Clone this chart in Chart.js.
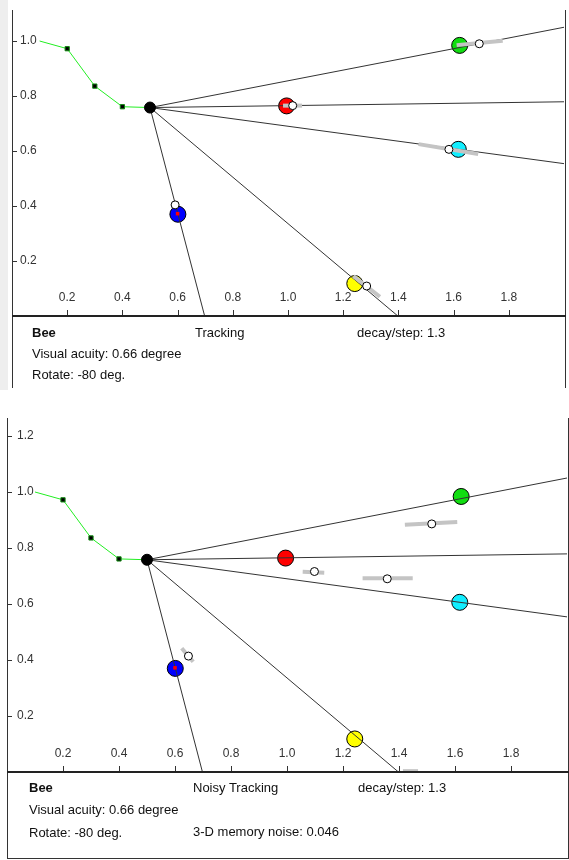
<!DOCTYPE html>
<html>
<head>
<meta charset="utf-8">
<script src="https://cdn.jsdelivr.net/npm/chart.js@4.4.1/dist/chart.umd.min.js"></script>
<style>
  body { margin: 0; background: #fff; }
  #wrap { position: relative; width: 569px; height: 860px; }
  canvas { position: absolute; left: 0; }
  .t { position: absolute; font: 13px "Liberation Sans", Arial, sans-serif; line-height: 15px; color: #111; white-space: nowrap; }
  .b { font-weight: bold; }
</style>
</head>
<body>
<div id="wrap">
  <canvas id="trackChart" width="569" height="390" style="top:0"></canvas>
  <canvas id="noisyChart" width="569" height="460" style="top:400px"></canvas>

  <div class="t b" style="left:32px;top:325px">Bee</div>
  <div class="t" style="left:32px;top:346px">Visual acuity: 0.66 degree</div>
  <div class="t" style="left:32px;top:367px">Rotate: -80 deg.</div>
  <div class="t" style="left:195px;top:325px">Tracking</div>
  <div class="t" style="left:357px;top:325px">decay/step: 1.3</div>

  <div class="t b" style="left:29px;top:780px">Bee</div>
  <div class="t" style="left:29px;top:802px">Visual acuity: 0.66 degree</div>
  <div class="t" style="left:29px;top:825px">Rotate: -80 deg.</div>
  <div class="t" style="left:193px;top:780px">Noisy Tracking</div>
  <div class="t" style="left:358px;top:780px">decay/step: 1.3</div>
  <div class="t" style="left:193px;top:824px">3-D memory noise: 0.046</div>
</div>
<script>
// bee trail (last point is the bee)
const trailX = [0.1, 0.2, 0.3, 0.4, 0.5];
const trailY = [1.0, 0.972, 0.836, 0.761, 0.758];

// targets: green, red, cyan, yellow, blue
const targetColors = ['#11dd11', '#ff0000', '#11eeff', '#ffff00', '#0000ff'];
const targetX = [1.622, 0.995, 1.617, 1.242, 0.601];
const targetY = [0.984, 0.764, 0.606, 0.118, 0.370];
// where each sight line leaves the plot
const rayEndX = [2.0, 2.0, 2.0, 1.398, 0.698];
const rayEndY = [1.050, 0.779, 0.554, 0.0, 0.0];
// selected target mark
const markX = [0.6];
const markY = [0.372];

// tracking estimates + spread bars
const trackEstX = [1.693, 1.017, 1.583, 1.285, 0.591];
const trackEstY = [0.990, 0.765, 0.606, 0.109, 0.404];
const trackBarX0 = [1.611, 0.982, 1.473, 1.237, 0.591];
const trackBarY0 = [0.985, 0.765, 0.625, 0.145, 0.404];
const trackBarX1 = [1.778, 1.051, 1.689, 1.333, 0.591];
const trackBarY1 = [1.001, 0.765, 0.589, 0.070, 0.404];

// noisy tracking estimates + spread bars
const noisyEstX = [1.517, 1.098, 1.358, 1.44, 0.648];
const noisyEstY = [0.886, 0.716, 0.690, -0.03, 0.414];
const noisyBarX0 = [1.421, 1.056, 1.270, 1.414, 0.624];
const noisyBarY0 = [0.883, 0.715, 0.692, 0.003, 0.442];
const noisyBarX1 = [1.608, 1.133, 1.449, 1.468, 0.665];
const noisyBarY1 = [0.893, 0.712, 0.692, 0.003, 0.394];

const xTicks = [0.2, 0.4, 0.6, 0.8, 1.0, 1.2, 1.4, 1.6, 1.8];

const pts = (xs, ys) => xs.map((x, i) => ({ x: x, y: ys[i] }));

const framePlugin = {
  id: 'frame',
  afterDraw(chart, args, opts) {
    const { ctx, chartArea: a, scales } = chart;
    const line = (x1, y1, x2, y2) => { ctx.beginPath(); ctx.moveTo(x1, y1); ctx.lineTo(x2, y2); ctx.stroke(); };
    ctx.save();
    if (opts.strip) {
      ctx.fillStyle = '#eeeeee';
      ctx.fillRect(0, 0, opts.strip, chart.height);
    }
    ctx.strokeStyle = '#333';
    ctx.lineWidth = 1;
    line(a.left + 0.5, a.top, a.left + 0.5, opts.bottom);
    line(a.right + 1.5, a.top, a.right + 1.5, opts.bottom);
    if (opts.box) line(a.left, opts.bottom - 0.5, a.right + 2, opts.bottom - 0.5);
    scales.x.ticks.forEach(t => {
      if (t.value <= 0.001 || t.value >= 1.999) return;
      const px = Math.round(scales.x.getPixelForValue(t.value)) + 0.5;
      line(px, a.bottom, px, a.bottom - 6);
    });
    scales.y.ticks.forEach(t => {
      if (t.value <= 0.001) return;
      const py = Math.round(scales.y.getPixelForValue(t.value)) + 0.5;
      line(a.left, py, a.left + 5, py);
    });
    ctx.strokeStyle = '#222';
    ctx.lineWidth = 2;
    line(a.left, a.bottom, a.right + 2, a.bottom);
    ctx.restore();
  }
};

const makeDatasets = (estX, estY, barX0, barY0, barX1, barY1) => {
  const sets = [];
  sets.push({
    data: [{ x: trailX[4], y: trailY[4] }],
    pointRadius: 5.5, pointBackgroundColor: '#000', pointBorderColor: '#000', pointBorderWidth: 1,
    order: 1
  });
  sets.push({
    data: pts(trailX, trailY), showLine: true, borderColor: '#22ee22', borderWidth: 1,
    pointStyle: 'rect', pointRadius: [0, 3, 3, 3, 0],
    pointBackgroundColor: '#000', pointBorderColor: '#118811', pointBorderWidth: 1,
    order: 2
  });
  sets.push({
    data: pts(markX, markY), pointStyle: 'rect', pointRadius: 2.5,
    pointBackgroundColor: '#ff0000', pointBorderColor: '#cc0000', pointBorderWidth: 0,
    order: 3
  });
  sets.push({
    data: pts(estX, estY), pointRadius: 4, pointBackgroundColor: '#fff',
    pointBorderColor: '#000', pointBorderWidth: 1, clip: 0,
    order: 4
  });
  barX0.forEach((x0, i) => {
    sets.push({
      data: [{ x: x0, y: barY0[i] }, { x: barX1[i], y: barY1[i] }],
      showLine: true, borderColor: '#c4c4c4', borderWidth: 4, pointRadius: 0, clip: 0,
      order: 5
    });
  });
  rayEndX.forEach((xe, i) => {
    sets.push({
      data: [{ x: trailX[4], y: trailY[4] }, { x: xe, y: rayEndY[i] }],
      showLine: true, borderColor: '#333', borderWidth: 1, pointRadius: 0,
      order: 6
    });
  });
  sets.push({
    data: pts(targetX, targetY), pointRadius: 8, pointBackgroundColor: targetColors,
    pointBorderColor: '#000', pointBorderWidth: 1,
    order: 7
  });
  return sets;
};

const zeroFit = (s) => {
  if (s.isHorizontal()) s.height = 0; else s.width = 0;
  s.paddingLeft = 0; s.paddingRight = 0; s.paddingTop = 0; s.paddingBottom = 0;
};

const tickFont = { family: '"Liberation Sans", Arial, sans-serif', size: 12 };
// x labels sit ~18px above the axis: no padding, tall line box
const xTickFont = { family: '"Liberation Sans", Arial, sans-serif', size: 12, lineHeight: '36px' };

const makeChart = (id, datasets, pad, yMax, yPad, frame) => new Chart(document.getElementById(id), {
  type: 'scatter',
  data: { datasets: datasets },
  options: {
    responsive: false,
    animation: false,
    devicePixelRatio: 1,
    events: [],
    layout: { padding: pad, autoPadding: false },
    plugins: { legend: { display: false }, tooltip: { enabled: false }, frame: frame },
    scales: {
      x: {
        type: 'linear', min: 0, max: 2,
        grid: { display: false, drawTicks: false }, border: { display: false },
        afterFit: zeroFit,
        afterBuildTicks: (s) => { s.ticks = [0].concat(xTicks, [2]).map(v => ({ value: v })); },
        ticks: {
          mirror: true, padding: 0, autoSkip: false, maxRotation: 0, color: '#333', font: xTickFont,
          callback: (v) => (v > 0.001 && v < 1.999) ? v.toFixed(1) : ''
        }
      },
      y: {
        type: 'linear', min: 0, max: yMax,
        grid: { display: false, drawTicks: false }, border: { display: false },
        afterFit: zeroFit,
        ticks: {
          mirror: true, padding: yPad, stepSize: 0.2, includeBounds: false, color: '#333', font: tickFont,
          callback: (v) => v > 0.001 ? v.toFixed(1) : ''
        }
      }
    }
  },
  plugins: [framePlugin]
});

makeChart('trackChart',
  makeDatasets(trackEstX, trackEstY, trackBarX0, trackBarY0, trackBarX1, trackBarY1),
  { left: 12, right: 5, top: 10, bottom: 74 }, 306 / 275, 8,
  { strip: 8, bottom: 388, box: false });

makeChart('noisyChart',
  makeDatasets(noisyEstX, noisyEstY, noisyBarX0, noisyBarY0, noisyBarX1, noisyBarY1),
  { left: 7, right: 2, top: 18, bottom: 88 }, 354 / 280, 10,
  { strip: 0, bottom: 459, box: true });
</script>
</body>
</html>
